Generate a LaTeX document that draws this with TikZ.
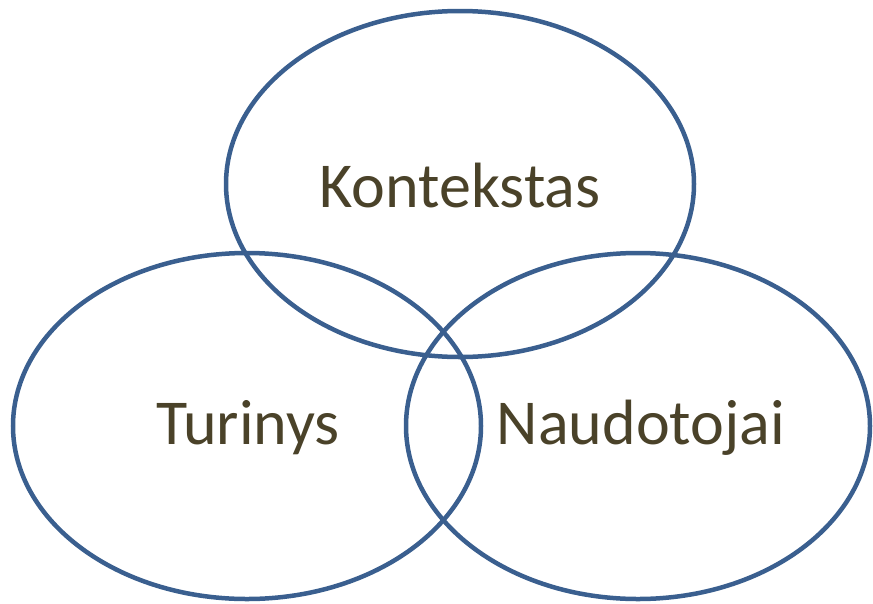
\documentclass[tikz,border=0pt]{standalone}
\usepackage{fontspec}
\setmainfont{Carlito}
\definecolor{ringblue}{HTML}{3A5F8F}
\definecolor{labelolive}{HTML}{4A4229}
\begin{document}
\begin{tikzpicture}[x=1pt,y=-1pt,
  ring/.style={draw=ringblue,line width=4.5pt},
  lbl/.style={text=labelolive,font=\fontsize{64}{76}\selectfont,inner sep=0pt}]
\useasboundingbox (0,0) rectangle (873,603);
\draw[ring] (460,184) ellipse [x radius=234, y radius=173];
\draw[ring] (247,426) ellipse [x radius=234, y radius=173];
\draw[ring] (638,426) ellipse [x radius=232, y radius=173];
\node[lbl] (k) at (460,186) {Kontekstas};
\node[lbl] (t) at (248,428) {Turinys};
\node[lbl] (n) at (641,428) {Naudotojai};
\end{tikzpicture}
\end{document}
